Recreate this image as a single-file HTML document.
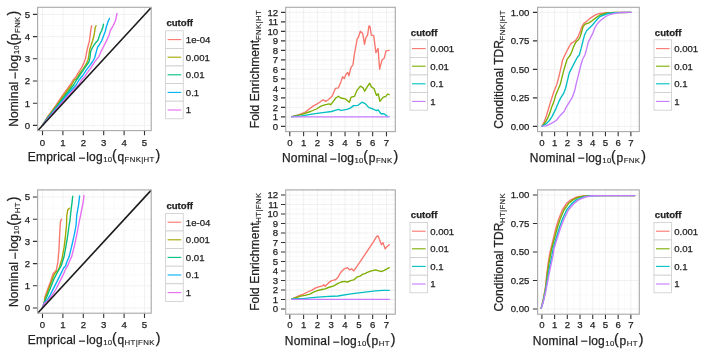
<!DOCTYPE html>
<html><head><meta charset="utf-8"><style>
html,body{margin:0;padding:0;background:#fff;}
body{width:704px;height:354px;overflow:hidden;}
svg{display:block;}
#w{width:704px;height:354px;will-change:transform;}
text{font-family:"Liberation Sans", sans-serif;fill:#222222;stroke:#222222;stroke-width:0.25px;}
.ax{font-size:9.6px;}
.tt{font-size:12px;}
.sb{font-size:8.4px;}
.tg text{font-size:12px;}
.lt{font-size:9.6px;font-weight:bold;}
.ll{font-size:9.6px;}
</style></head><body><div id="w">
<svg width="704" height="354" viewBox="0 0 704 354">
<rect width="704" height="354" fill="#fff"/>
<rect x="37.6" y="7.3" width="113.6" height="123.3" fill="#fff"/>
<path d="M52.7 7.3V130.6M73.1 7.3V130.6M93.5 7.3V130.6M113.9 7.3V130.6M134.3 7.3V130.6M37.6 114.3H151.2M37.6 92.1H151.2M37.6 69.9H151.2M37.6 47.7H151.2M37.6 25.5H151.2" stroke="#f6f6f6" stroke-width="0.6" fill="none"/>
<path d="M42.5 7.3V130.6M62.9 7.3V130.6M83.3 7.3V130.6M103.7 7.3V130.6M124.1 7.3V130.6M144.5 7.3V130.6M37.6 125.4H151.2M37.6 103.2H151.2M37.6 81H151.2M37.6 58.8H151.2M37.6 36.6H151.2M37.6 14.4H151.2" stroke="#e8e8e8" stroke-width="0.6" fill="none"/>
<rect x="285.7" y="7.3" width="109.6" height="124.3" fill="#fff"/>
<path d="M296.7 7.3V131.6M310.51 7.3V131.6M324.32 7.3V131.6M338.13 7.3V131.6M351.94 7.3V131.6M365.75 7.3V131.6M379.56 7.3V131.6M393.38 7.3V131.6M285.7 131.15H395.3M285.7 121.65H395.3M285.7 112.15H395.3M285.7 102.65H395.3M285.7 93.15H395.3M285.7 83.65H395.3M285.7 74.15H395.3M285.7 64.65H395.3M285.7 55.15H395.3M285.7 45.65H395.3M285.7 36.15H395.3M285.7 26.65H395.3M285.7 17.15H395.3M285.7 7.65H395.3" stroke="#f6f6f6" stroke-width="0.6" fill="none"/>
<path d="M289.8 7.3V131.6M303.61 7.3V131.6M317.42 7.3V131.6M331.23 7.3V131.6M345.04 7.3V131.6M358.85 7.3V131.6M372.66 7.3V131.6M386.47 7.3V131.6M285.7 126.4H395.3M285.7 116.9H395.3M285.7 107.4H395.3M285.7 97.9H395.3M285.7 88.4H395.3M285.7 78.9H395.3M285.7 69.4H395.3M285.7 59.9H395.3M285.7 50.4H395.3M285.7 40.9H395.3M285.7 31.4H395.3M285.7 21.9H395.3M285.7 12.4H395.3" stroke="#e8e8e8" stroke-width="0.6" fill="none"/>
<rect x="537.6" y="7.3" width="101.7" height="124.3" fill="#fff"/>
<path d="M548.25 7.3V131.6M560.97 7.3V131.6M573.67 7.3V131.6M586.38 7.3V131.6M599.1 7.3V131.6M611.8 7.3V131.6M624.51 7.3V131.6M637.23 7.3V131.6M537.6 112.15H639.3M537.6 83.65H639.3M537.6 55.15H639.3M537.6 26.65H639.3" stroke="#f6f6f6" stroke-width="0.6" fill="none"/>
<path d="M541.9 7.3V131.6M554.61 7.3V131.6M567.32 7.3V131.6M580.03 7.3V131.6M592.74 7.3V131.6M605.45 7.3V131.6M618.16 7.3V131.6M630.87 7.3V131.6M537.6 126.4H639.3M537.6 97.9H639.3M537.6 69.4H639.3M537.6 40.9H639.3M537.6 12.4H639.3" stroke="#e8e8e8" stroke-width="0.6" fill="none"/>
<rect x="37.6" y="189.9" width="113.6" height="123.3" fill="#fff"/>
<path d="M52.7 189.9V313.2M73.1 189.9V313.2M93.5 189.9V313.2M113.9 189.9V313.2M134.3 189.9V313.2M37.6 296.9H151.2M37.6 274.7H151.2M37.6 252.5H151.2M37.6 230.3H151.2M37.6 208.1H151.2" stroke="#f6f6f6" stroke-width="0.6" fill="none"/>
<path d="M42.5 189.9V313.2M62.9 189.9V313.2M83.3 189.9V313.2M103.7 189.9V313.2M124.1 189.9V313.2M144.5 189.9V313.2M37.6 308H151.2M37.6 285.8H151.2M37.6 263.6H151.2M37.6 241.4H151.2M37.6 219.2H151.2M37.6 197H151.2" stroke="#e8e8e8" stroke-width="0.6" fill="none"/>
<rect x="285.7" y="189.9" width="109.6" height="124.3" fill="#fff"/>
<path d="M296.7 189.9V314.2M310.51 189.9V314.2M324.32 189.9V314.2M338.13 189.9V314.2M351.94 189.9V314.2M365.75 189.9V314.2M379.56 189.9V314.2M393.38 189.9V314.2M285.7 313.75H395.3M285.7 304.25H395.3M285.7 294.75H395.3M285.7 285.25H395.3M285.7 275.75H395.3M285.7 266.25H395.3M285.7 256.75H395.3M285.7 247.25H395.3M285.7 237.75H395.3M285.7 228.25H395.3M285.7 218.75H395.3M285.7 209.25H395.3M285.7 199.75H395.3M285.7 190.25H395.3" stroke="#f6f6f6" stroke-width="0.6" fill="none"/>
<path d="M289.8 189.9V314.2M303.61 189.9V314.2M317.42 189.9V314.2M331.23 189.9V314.2M345.04 189.9V314.2M358.85 189.9V314.2M372.66 189.9V314.2M386.47 189.9V314.2M285.7 309H395.3M285.7 299.5H395.3M285.7 290H395.3M285.7 280.5H395.3M285.7 271H395.3M285.7 261.5H395.3M285.7 252H395.3M285.7 242.5H395.3M285.7 233H395.3M285.7 223.5H395.3M285.7 214H395.3M285.7 204.5H395.3M285.7 195H395.3" stroke="#e8e8e8" stroke-width="0.6" fill="none"/>
<rect x="537.6" y="189.9" width="101.7" height="124.3" fill="#fff"/>
<path d="M548.25 189.9V314.2M560.97 189.9V314.2M573.67 189.9V314.2M586.38 189.9V314.2M599.1 189.9V314.2M611.8 189.9V314.2M624.51 189.9V314.2M637.23 189.9V314.2M537.6 294.75H639.3M537.6 266.25H639.3M537.6 237.75H639.3M537.6 209.25H639.3" stroke="#f6f6f6" stroke-width="0.6" fill="none"/>
<path d="M541.9 189.9V314.2M554.61 189.9V314.2M567.32 189.9V314.2M580.03 189.9V314.2M592.74 189.9V314.2M605.45 189.9V314.2M618.16 189.9V314.2M630.87 189.9V314.2M537.6 309H639.3M537.6 280.5H639.3M537.6 252H639.3M537.6 223.5H639.3M537.6 195H639.3" stroke="#e8e8e8" stroke-width="0.6" fill="none"/>
<path d="M42.4 125.4 L46.7 118 L52.6 110 L56.2 105 L62.9 95 L70.1 85 L73.1 80 L75.3 77.8 L78.7 72.1 L81.6 67.6 L83.8 63.1 L85.5 58.6 L86.3 54 L87.2 49.5 L88.3 45 L89.3 41.6 L89.9 37.1 L90.5 32.6 L91 29.2 L91.6 25.8" stroke="#F8766D" stroke-width="1.35" fill="none" stroke-linejoin="round" stroke-linecap="round"/>
<path d="M42.4 125.4 L47.2 118 L53.3 110 L57.1 105 L64.2 95 L71.6 85 L74.4 80 L76.5 78.9 L79.9 73.2 L83.3 68.7 L86.1 64.2 L88.1 59.7 L88.9 55.2 L89.7 49.5 L91.2 45 L92.7 40.5 L93.9 36 L94.7 31.5 L95.3 27 L96.1 25.8" stroke="#A3A500" stroke-width="1.35" fill="none" stroke-linejoin="round" stroke-linecap="round"/>
<path d="M42.4 125.4 L47.6 118 L54 110 L58 105 L65.7 95 L73.6 85 L76.5 80 L80.4 74.4 L83.8 69.3 L86.6 65.3 L88.9 62 L90 57.4 L90.6 51.8 L92 48.4 L94 45 L95.6 42.8 L97.8 40.5 L99 37.1 L100.1 33.7 L101.8 30.3 L102.9 27 L103.5 24.1" stroke="#00BF7D" stroke-width="1.35" fill="none" stroke-linejoin="round" stroke-linecap="round"/>
<path d="M42.4 125.4 L48.1 118 L54.8 110 L59 105 L67.3 95 L76.1 85 L79 80 L82.7 75.5 L86.1 70.4 L89.5 65.9 L92.3 62 L94.6 58 L95.7 54 L96.8 50 L97.5 47.3 L99.5 44.5 L101.8 40.5 L103.5 36 L105.2 31.5 L106.3 27 L107.4 23.6 L108.6 20.2 L109.5 18.5" stroke="#00B0F6" stroke-width="1.35" fill="none" stroke-linejoin="round" stroke-linecap="round"/>
<path d="M42.4 125.4 L48.6 118 L55.6 110 L60.1 105 L68.9 95 L78.4 85 L81.6 80 L83.7 77.8 L87 73.2 L90.4 68.7 L93.8 63.1 L96.4 59.7 L99 56.3 L101.5 50.6 L103.2 47.3 L104.9 43.9 L107.2 39.4 L109.1 34.9 L110.2 30.9 L111.4 28.6 L113.1 25.8 L114.8 22.4 L115.9 19 L116.5 15.6 L117 13.4" stroke="#E76BF3" stroke-width="1.35" fill="none" stroke-linejoin="round" stroke-linecap="round"/>
<path d="M42.4 308 L44.1 303.1 L44.8 297.5 L46.2 293.2 L48.3 287.6 L50.4 281.9 L51.8 277.7 L53.2 273.5 L54.6 272.1 L56.1 270.6 L56.8 267.8 L57.3 265 L57.9 261.9 L58.9 250.5 L59.5 237.7 L60.2 225 L60.5 221.5 L61.5 219.2" stroke="#F8766D" stroke-width="1.35" fill="none" stroke-linejoin="round" stroke-linecap="round"/>
<path d="M42.4 308 L44.1 303.1 L45.5 297.5 L47.6 291.8 L49.7 286.2 L51.8 280.5 L53.9 274.9 L56.1 272.1 L58.3 270 L59.5 267 L62.1 258.1 L64 247.9 L65.3 237.7 L66.5 225 L66.8 215.7 L67.8 209.8 L69.4 208.2" stroke="#A3A500" stroke-width="1.35" fill="none" stroke-linejoin="round" stroke-linecap="round"/>
<path d="M42.4 308 L44.1 303.1 L46.2 298.2 L48.3 293.2 L51.1 286.2 L53.9 279.1 L56.8 273.5 L59.6 268.5 L61.5 265 L64 256.8 L65.9 246.6 L67.8 235.2 L69.1 225 L69.8 221.6 L71.1 209.8 L72.1 201.9 L72.7 196.3" stroke="#00BF7D" stroke-width="1.35" fill="none" stroke-linejoin="round" stroke-linecap="round"/>
<path d="M42.4 308 L44.1 303.3 L47.6 299.6 L50.4 294.6 L53.9 287.6 L56.8 281.9 L60.3 274.9 L63.8 267.8 L65.5 266 L66.8 262 L69.1 256.8 L71.6 246.6 L74.2 235.2 L76.1 225 L76.7 215.7 L78.7 203.8 L79.6 195.9" stroke="#00B0F6" stroke-width="1.35" fill="none" stroke-linejoin="round" stroke-linecap="round"/>
<path d="M42.4 308 L44.1 303.8 L48.3 300.3 L52.5 294.6 L56.1 289 L59.6 281.9 L63.1 274.9 L65.9 268.5 L67.8 265.7 L69.1 262 L71.6 256.8 L74.2 246.6 L76.7 235.2 L78.6 225 L81 213 L83.2 201.9 L84 195.5" stroke="#E76BF3" stroke-width="1.35" fill="none" stroke-linejoin="round" stroke-linecap="round"/>
<path d="M38.1 130.19L151.02 7.8" stroke="#1a1a1a" stroke-width="1.6"/>
<path d="M38.1 312.79L151.02 190.4" stroke="#1a1a1a" stroke-width="1.6"/>
<path d="M291.8 116.6 L298.6 114.9 L305.3 112 L310.4 108.1 L313.8 105.6 L317.2 103.9 L319.7 102.2 L323.1 99.7 L325.7 101.4 L328.2 99.7 L332.1 96.3 L335.5 88.3 L338.4 87.8 L340.9 81.9 L342.6 76.8 L344.3 78.5 L346 74.2 L347.7 72.5 L348.9 75.9 L350.3 70 L351.1 67.3 L353 64.6 L354.2 55.4 L355.7 47.1 L357.2 38.9 L358.5 37 L360.3 31.2 L362.7 33.4 L364.5 44.4 L365.8 38 L367.6 35.2 L368.9 26 L370 26.4 L371.3 35.2 L373.7 35.6 L375.9 52.6 L378.1 48.4 L379.6 69.2 L382 60 L384.2 58.2 L386 50.8 L389.1 50.3" stroke="#F8766D" stroke-width="1.35" fill="none" stroke-linejoin="round" stroke-linecap="round"/>
<path d="M291.8 116.6 L302 114.4 L310.4 111.5 L316.4 109 L321.4 105.9 L325.7 104.7 L329.1 103.9 L330.8 104.7 L333.3 101.4 L335.8 98 L338.4 96.3 L340.9 98 L345.2 98.8 L346.9 100.2 L349.4 102.2 L351.1 97.1 L354.5 96.3 L357 90.3 L360.4 86.1 L363 87.8 L364.7 91.2 L367.2 86.9 L369.7 83.2 L371.4 86.9 L374 88.6 L376.5 95.4 L378.2 93.7 L379.9 101.4 L383.3 97.1 L385.8 96.3 L387.5 94.1 L389.2 94.6" stroke="#7CAE00" stroke-width="1.35" fill="none" stroke-linejoin="round" stroke-linecap="round"/>
<path d="M291.8 116.6 L302 115.8 L310.4 114.4 L318.9 113.2 L324.8 112.4 L331.6 111.5 L335 110.3 L338.4 109.3 L340.9 110.3 L346.9 109.3 L350.3 108.1 L353.6 105.6 L357.9 105.3 L362.1 102.2 L365.5 103.9 L368.9 107.6 L373.1 109 L376.5 110.7 L378.2 109.8 L380.8 113.7 L383.3 113.7 L385 114.4 L387.5 116.6" stroke="#00BFC4" stroke-width="1.35" fill="none" stroke-linejoin="round" stroke-linecap="round"/>
<path d="M291.8 116.9 L389.2 116.9" stroke="#C77CFF" stroke-width="1.35" fill="none" stroke-linejoin="round" stroke-linecap="round"/>
<path d="M291.9 299 L298 296.1 L303.3 294.1 L308.6 291.5 L311.9 290.1 L315.2 288.2 L318.5 286.8 L321.8 286.2 L323.8 284.8 L325.1 286.2 L328.5 282.9 L331.1 280.9 L333.8 280.2 L335.8 279.5 L338 277.2 L341.1 271.9 L344.3 268.8 L347.4 267.7 L349.5 269.8 L351.6 268.8 L353.7 270.9 L356.8 266.7 L361 260.4 L365.2 254.2 L369.4 247.9 L373.6 241.6 L376.7 236.4 L378.2 236 L379.8 240.6 L381.5 244.7 L383 242.6 L385.1 248.9 L387.2 246.4 L389.3 244.7" stroke="#F8766D" stroke-width="1.35" fill="none" stroke-linejoin="round" stroke-linecap="round"/>
<path d="M291.9 299 L300.6 296.1 L305 295.3 L309.9 294.1 L313 292.3 L316.5 290.8 L321.8 289.5 L325 288.8 L328.5 287.5 L333.8 285.8 L338 283.4 L341.1 282 L344.3 281.3 L347.4 282 L350.6 280.7 L353.7 279.9 L356.8 277.2 L360 276.1 L363.1 274 L365 273.6 L367.3 272.4 L371.5 270.9 L375.7 269.8 L378.8 270.9 L381.9 271.5 L385.1 269.8 L389.3 267.7" stroke="#7CAE00" stroke-width="1.35" fill="none" stroke-linejoin="round" stroke-linecap="round"/>
<path d="M291.9 299 L304.8 298.4 L315 297.4 L324.6 296.6 L338 296 L350.6 293.9 L363.1 292.4 L375.7 290.8 L383 290.3 L389.3 290.3" stroke="#00BFC4" stroke-width="1.35" fill="none" stroke-linejoin="round" stroke-linecap="round"/>
<path d="M291.9 299.4 L389.3 299.4" stroke="#C77CFF" stroke-width="1.35" fill="none" stroke-linejoin="round" stroke-linecap="round"/>
<path d="M542.1 126.2 L544.3 121.6 L546 117.1 L547.7 111.5 L549.4 105.8 L551.1 100.2 L552.6 95.5 L554.5 90 L556.9 84.2 L558.8 77 L560.3 70.6 L562.6 60 L564.5 56 L565.7 53.4 L567.4 50 L569.1 46.6 L571.4 43.2 L573.6 42.1 L575.9 39.9 L578.2 36.5 L580.4 30.8 L582.1 26.3 L583.8 23.5 L586.6 21.2 L590 18.4 L593.4 16.1 L596 14.6 L599.9 13.3 L606.8 12.6 L631 12.4" stroke="#F8766D" stroke-width="1.35" fill="none" stroke-linejoin="round" stroke-linecap="round"/>
<path d="M542.1 126.2 L544.9 122.8 L547.7 118.2 L550 112.6 L551.7 106.9 L554 101.3 L555.6 95.6 L557.9 90 L560.3 84.2 L563.7 70.6 L567.1 59.3 L570.3 55 L572 51.2 L573.6 46.6 L575.9 42.1 L578.2 39.9 L579.9 37.6 L581.6 32 L583.2 26.3 L585.5 24 L588.9 22.9 L592.3 20.6 L595 18.4 L599.9 15 L606.8 13 L614.7 12.5 L631 12.4" stroke="#7CAE00" stroke-width="1.35" fill="none" stroke-linejoin="round" stroke-linecap="round"/>
<path d="M542.1 126.2 L546 123.9 L549.4 120.5 L551.7 117.1 L554 112.6 L556.2 108.1 L558.5 102.4 L560.7 97.9 L563.6 93.4 L565.5 88.5 L569.3 72.9 L573.9 63.9 L577.2 57.5 L579.3 55 L581 48.9 L582.7 42.1 L584.4 35.3 L586.6 30.8 L588.9 28.6 L591.2 26.3 L593.4 24 L595 21.8 L599.9 16.5 L607.8 13.5 L614.7 12.7 L631 12.4" stroke="#00BFC4" stroke-width="1.35" fill="none" stroke-linejoin="round" stroke-linecap="round"/>
<path d="M542.1 126.2 L546 125.9 L550.6 123.9 L556.2 120.5 L560.7 114.9 L564.1 111.5 L566.4 106.9 L569.8 101.3 L572 97.9 L573.7 93.4 L574.9 90 L576.1 84.2 L578.4 75.1 L580.6 66 L582.7 59 L584.9 55 L586.6 48.9 L588.3 42.1 L590.6 37.6 L592.9 33.1 L595 27.4 L597.5 23.5 L600.5 20.5 L604.8 17 L609.8 14.5 L615.7 13.1 L621.6 12.5 L631 12.4" stroke="#C77CFF" stroke-width="1.35" fill="none" stroke-linejoin="round" stroke-linecap="round"/>
<path d="M541.2 308.1 L543.28 299.51 L545.5 286.91 L546.55 276.31 L548.09 263.72 L549.86 252.91 L551.07 248 L553.71 237.2 L556.25 227 L558.89 218.5 L562.34 210 L566.58 203.34 L570.83 199.9 L576.01 197.28 L582.81 195.99 L589.89 195.6 L634.7 195.6" stroke="#F8766D" stroke-width="1.4" fill="none" stroke-linejoin="round" stroke-linecap="round"/>
<path d="M541.2 308.1 L543.18 300.56 L545.5 288.49 L546.83 277.89 L548.51 265.82 L550.66 253.96 L551.92 248 L554.76 237.2 L557.53 227 L560.37 218.5 L564.01 210 L568.48 203.54 L572.95 199.9 L578.56 197.21 L585.36 195.94 L593.87 195.6 L634.7 195.6" stroke="#7CAE00" stroke-width="1.4" fill="none" stroke-linejoin="round" stroke-linecap="round"/>
<path d="M541.2 308.1 L543.02 302.24 L545.5 291.01 L547.27 280.41 L549.19 269.18 L551.94 255.64 L553.28 248 L556.44 237.2 L559.57 227 L562.73 218.5 L566.69 210 L571.52 203.86 L576.35 199.9 L582.64 197.09 L589.44 195.86 L600.23 195.6 L634.7 195.6" stroke="#00BFC4" stroke-width="1.4" fill="none" stroke-linejoin="round" stroke-linecap="round"/>
<path d="M541.2 308.1 L542.92 303.29 L545.5 292.58 L547.55 281.99 L549.62 271.28 L552.74 256.69 L554.13 248 L557.49 237.2 L560.85 227 L564.21 218.5 L568.37 210 L573.42 204.06 L578.47 199.9 L585.19 197.01 L591.99 195.81 L604.21 195.6 L634.7 195.6" stroke="#C77CFF" stroke-width="1.4" fill="none" stroke-linejoin="round" stroke-linecap="round"/>
<rect x="37.6" y="7.3" width="113.6" height="123.3" fill="none" stroke="#ababab" stroke-width="1.15"/>
<path d="M42.5 131.1v4.2M62.9 131.1v4.2M83.3 131.1v4.2M103.7 131.1v4.2M124.1 131.1v4.2M144.5 131.1v4.2M37.1 125.4h-4.2M37.1 103.2h-4.2M37.1 81h-4.2M37.1 58.8h-4.2M37.1 36.6h-4.2M37.1 14.4h-4.2" stroke="#333333" stroke-width="1.1" fill="none"/>
<text x="42.5" y="145.8" text-anchor="middle" class="ax">0</text>
<text x="62.9" y="145.8" text-anchor="middle" class="ax">1</text>
<text x="83.3" y="145.8" text-anchor="middle" class="ax">2</text>
<text x="103.7" y="145.8" text-anchor="middle" class="ax">3</text>
<text x="124.1" y="145.8" text-anchor="middle" class="ax">4</text>
<text x="144.5" y="145.8" text-anchor="middle" class="ax">5</text>
<text x="30" y="128.8" text-anchor="end" class="ax">0</text>
<text x="30" y="106.6" text-anchor="end" class="ax">1</text>
<text x="30" y="84.4" text-anchor="end" class="ax">2</text>
<text x="30" y="62.2" text-anchor="end" class="ax">3</text>
<text x="30" y="40" text-anchor="end" class="ax">4</text>
<text x="30" y="17.8" text-anchor="end" class="ax">5</text>
<rect x="285.7" y="7.3" width="109.6" height="124.3" fill="none" stroke="#ababab" stroke-width="1.15"/>
<path d="M289.8 132.1v4.2M303.61 132.1v4.2M317.42 132.1v4.2M331.23 132.1v4.2M345.04 132.1v4.2M358.85 132.1v4.2M372.66 132.1v4.2M386.47 132.1v4.2M285.2 126.4h-4.2M285.2 116.9h-4.2M285.2 107.4h-4.2M285.2 97.9h-4.2M285.2 88.4h-4.2M285.2 78.9h-4.2M285.2 69.4h-4.2M285.2 59.9h-4.2M285.2 50.4h-4.2M285.2 40.9h-4.2M285.2 31.4h-4.2M285.2 21.9h-4.2M285.2 12.4h-4.2" stroke="#333333" stroke-width="1.1" fill="none"/>
<text x="289.8" y="145.8" text-anchor="middle" class="ax">0</text>
<text x="303.61" y="145.8" text-anchor="middle" class="ax">1</text>
<text x="317.42" y="145.8" text-anchor="middle" class="ax">2</text>
<text x="331.23" y="145.8" text-anchor="middle" class="ax">3</text>
<text x="345.04" y="145.8" text-anchor="middle" class="ax">4</text>
<text x="358.85" y="145.8" text-anchor="middle" class="ax">5</text>
<text x="372.66" y="145.8" text-anchor="middle" class="ax">6</text>
<text x="386.47" y="145.8" text-anchor="middle" class="ax">7</text>
<text x="278.2" y="129.8" text-anchor="end" class="ax">0</text>
<text x="278.2" y="120.3" text-anchor="end" class="ax">1</text>
<text x="278.2" y="110.8" text-anchor="end" class="ax">2</text>
<text x="278.2" y="101.3" text-anchor="end" class="ax">3</text>
<text x="278.2" y="91.8" text-anchor="end" class="ax">4</text>
<text x="278.2" y="82.3" text-anchor="end" class="ax">5</text>
<text x="278.2" y="72.8" text-anchor="end" class="ax">6</text>
<text x="278.2" y="63.3" text-anchor="end" class="ax">7</text>
<text x="278.2" y="53.8" text-anchor="end" class="ax">8</text>
<text x="278.2" y="44.3" text-anchor="end" class="ax">9</text>
<text x="278.2" y="34.8" text-anchor="end" class="ax">10</text>
<text x="278.2" y="25.3" text-anchor="end" class="ax">11</text>
<text x="278.2" y="15.8" text-anchor="end" class="ax">12</text>
<rect x="537.6" y="7.3" width="101.7" height="124.3" fill="none" stroke="#ababab" stroke-width="1.15"/>
<path d="M541.9 132.1v4.2M554.61 132.1v4.2M567.32 132.1v4.2M580.03 132.1v4.2M592.74 132.1v4.2M605.45 132.1v4.2M618.16 132.1v4.2M630.87 132.1v4.2M537.1 126.4h-4.2M537.1 97.9h-4.2M537.1 69.4h-4.2M537.1 40.9h-4.2M537.1 12.4h-4.2" stroke="#333333" stroke-width="1.1" fill="none"/>
<text x="541.9" y="145.8" text-anchor="middle" class="ax">0</text>
<text x="554.61" y="145.8" text-anchor="middle" class="ax">1</text>
<text x="567.32" y="145.8" text-anchor="middle" class="ax">2</text>
<text x="580.03" y="145.8" text-anchor="middle" class="ax">3</text>
<text x="592.74" y="145.8" text-anchor="middle" class="ax">4</text>
<text x="605.45" y="145.8" text-anchor="middle" class="ax">5</text>
<text x="618.16" y="145.8" text-anchor="middle" class="ax">6</text>
<text x="630.87" y="145.8" text-anchor="middle" class="ax">7</text>
<text x="529.4" y="129.8" text-anchor="end" class="ax">0.00</text>
<text x="529.4" y="101.3" text-anchor="end" class="ax">0.25</text>
<text x="529.4" y="72.8" text-anchor="end" class="ax">0.50</text>
<text x="529.4" y="44.3" text-anchor="end" class="ax">0.75</text>
<text x="529.4" y="15.8" text-anchor="end" class="ax">1.00</text>
<rect x="37.6" y="189.9" width="113.6" height="123.3" fill="none" stroke="#ababab" stroke-width="1.15"/>
<path d="M42.5 313.7v4.2M62.9 313.7v4.2M83.3 313.7v4.2M103.7 313.7v4.2M124.1 313.7v4.2M144.5 313.7v4.2M37.1 308h-4.2M37.1 285.8h-4.2M37.1 263.6h-4.2M37.1 241.4h-4.2M37.1 219.2h-4.2M37.1 197h-4.2" stroke="#333333" stroke-width="1.1" fill="none"/>
<text x="42.5" y="328.4" text-anchor="middle" class="ax">0</text>
<text x="62.9" y="328.4" text-anchor="middle" class="ax">1</text>
<text x="83.3" y="328.4" text-anchor="middle" class="ax">2</text>
<text x="103.7" y="328.4" text-anchor="middle" class="ax">3</text>
<text x="124.1" y="328.4" text-anchor="middle" class="ax">4</text>
<text x="144.5" y="328.4" text-anchor="middle" class="ax">5</text>
<text x="30" y="311.4" text-anchor="end" class="ax">0</text>
<text x="30" y="289.2" text-anchor="end" class="ax">1</text>
<text x="30" y="267" text-anchor="end" class="ax">2</text>
<text x="30" y="244.8" text-anchor="end" class="ax">3</text>
<text x="30" y="222.6" text-anchor="end" class="ax">4</text>
<text x="30" y="200.4" text-anchor="end" class="ax">5</text>
<rect x="285.7" y="189.9" width="109.6" height="124.3" fill="none" stroke="#ababab" stroke-width="1.15"/>
<path d="M289.8 314.7v4.2M303.61 314.7v4.2M317.42 314.7v4.2M331.23 314.7v4.2M345.04 314.7v4.2M358.85 314.7v4.2M372.66 314.7v4.2M386.47 314.7v4.2M285.2 309h-4.2M285.2 299.5h-4.2M285.2 290h-4.2M285.2 280.5h-4.2M285.2 271h-4.2M285.2 261.5h-4.2M285.2 252h-4.2M285.2 242.5h-4.2M285.2 233h-4.2M285.2 223.5h-4.2M285.2 214h-4.2M285.2 204.5h-4.2M285.2 195h-4.2" stroke="#333333" stroke-width="1.1" fill="none"/>
<text x="289.8" y="328.4" text-anchor="middle" class="ax">0</text>
<text x="303.61" y="328.4" text-anchor="middle" class="ax">1</text>
<text x="317.42" y="328.4" text-anchor="middle" class="ax">2</text>
<text x="331.23" y="328.4" text-anchor="middle" class="ax">3</text>
<text x="345.04" y="328.4" text-anchor="middle" class="ax">4</text>
<text x="358.85" y="328.4" text-anchor="middle" class="ax">5</text>
<text x="372.66" y="328.4" text-anchor="middle" class="ax">6</text>
<text x="386.47" y="328.4" text-anchor="middle" class="ax">7</text>
<text x="278.2" y="312.4" text-anchor="end" class="ax">0</text>
<text x="278.2" y="302.9" text-anchor="end" class="ax">1</text>
<text x="278.2" y="293.4" text-anchor="end" class="ax">2</text>
<text x="278.2" y="283.9" text-anchor="end" class="ax">3</text>
<text x="278.2" y="274.4" text-anchor="end" class="ax">4</text>
<text x="278.2" y="264.9" text-anchor="end" class="ax">5</text>
<text x="278.2" y="255.4" text-anchor="end" class="ax">6</text>
<text x="278.2" y="245.9" text-anchor="end" class="ax">7</text>
<text x="278.2" y="236.4" text-anchor="end" class="ax">8</text>
<text x="278.2" y="226.9" text-anchor="end" class="ax">9</text>
<text x="278.2" y="217.4" text-anchor="end" class="ax">10</text>
<text x="278.2" y="207.9" text-anchor="end" class="ax">11</text>
<text x="278.2" y="198.4" text-anchor="end" class="ax">12</text>
<rect x="537.6" y="189.9" width="101.7" height="124.3" fill="none" stroke="#ababab" stroke-width="1.15"/>
<path d="M541.9 314.7v4.2M554.61 314.7v4.2M567.32 314.7v4.2M580.03 314.7v4.2M592.74 314.7v4.2M605.45 314.7v4.2M618.16 314.7v4.2M630.87 314.7v4.2M537.1 309h-4.2M537.1 280.5h-4.2M537.1 252h-4.2M537.1 223.5h-4.2M537.1 195h-4.2" stroke="#333333" stroke-width="1.1" fill="none"/>
<text x="541.9" y="328.4" text-anchor="middle" class="ax">0</text>
<text x="554.61" y="328.4" text-anchor="middle" class="ax">1</text>
<text x="567.32" y="328.4" text-anchor="middle" class="ax">2</text>
<text x="580.03" y="328.4" text-anchor="middle" class="ax">3</text>
<text x="592.74" y="328.4" text-anchor="middle" class="ax">4</text>
<text x="605.45" y="328.4" text-anchor="middle" class="ax">5</text>
<text x="618.16" y="328.4" text-anchor="middle" class="ax">6</text>
<text x="630.87" y="328.4" text-anchor="middle" class="ax">7</text>
<text x="529.4" y="312.4" text-anchor="end" class="ax">0.00</text>
<text x="529.4" y="283.9" text-anchor="end" class="ax">0.25</text>
<text x="529.4" y="255.4" text-anchor="end" class="ax">0.50</text>
<text x="529.4" y="226.9" text-anchor="end" class="ax">0.75</text>
<text x="529.4" y="198.4" text-anchor="end" class="ax">1.00</text>
<g transform="translate(28.8 160.2)" class="tg"><text x="-0.98" y="0.5" style="font-size:12px;letter-spacing:0.17px">Emprical</text><text x="49.42" y="1.3" style="font-size:12px">−</text><text x="57.48" y="0.5" style="font-size:12px;letter-spacing:0.17px">log</text><text x="74.4" y="1.6" style="font-size:7.8px;letter-spacing:0.2px;stroke-width:0.15px">10</text><text x="83.12" y="-0.1" style="font-size:14.2px">(</text><text x="88.77" y="0.5" style="font-size:12px">q</text><text x="95.74" y="1.5" style="font-size:7.8px;letter-spacing:0.36px;stroke-width:0.15px">FNK|HT</text><text x="126.77" y="-0.1" style="font-size:14.2px">)</text></g>
<g transform="translate(28.8 343.2)" class="tg"><text x="-0.98" y="0.5" style="font-size:12px;letter-spacing:0.17px">Emprical</text><text x="49.42" y="1.3" style="font-size:12px">−</text><text x="57.48" y="0.5" style="font-size:12px;letter-spacing:0.17px">log</text><text x="74.4" y="1.6" style="font-size:7.8px;letter-spacing:0.2px;stroke-width:0.15px">10</text><text x="83.12" y="-0.1" style="font-size:14.2px">(</text><text x="88.77" y="0.5" style="font-size:12px">q</text><text x="95.74" y="1.5" style="font-size:7.8px;letter-spacing:0.36px;stroke-width:0.15px">HT|FNK</text><text x="126.86" y="-0.1" style="font-size:14.2px">)</text></g>
<g transform="translate(283 161.2)" class="tg"><text x="-0.98" y="0.5" style="font-size:12px;letter-spacing:0.17px">Nominal</text><text x="46.59" y="1.3" style="font-size:12px">−</text><text x="54.65" y="0.5" style="font-size:12px;letter-spacing:0.17px">log</text><text x="71.57" y="1.6" style="font-size:7.8px;letter-spacing:0.2px;stroke-width:0.15px">10</text><text x="80.29" y="-0.1" style="font-size:14.2px">(</text><text x="85.68" y="0.5" style="font-size:12px">p</text><text x="92.91" y="1.5" style="font-size:7.8px;letter-spacing:0.36px;stroke-width:0.15px">FNK</text><text x="110.53" y="-0.1" style="font-size:14.2px">)</text></g>
<g transform="translate(285.8 344.2)" class="tg"><text x="-0.98" y="0.5" style="font-size:12px;letter-spacing:0.17px">Nominal</text><text x="46.59" y="1.3" style="font-size:12px">−</text><text x="54.65" y="0.5" style="font-size:12px;letter-spacing:0.17px">log</text><text x="71.57" y="1.6" style="font-size:7.8px;letter-spacing:0.2px;stroke-width:0.15px">10</text><text x="80.29" y="-0.1" style="font-size:14.2px">(</text><text x="85.68" y="0.5" style="font-size:12px">p</text><text x="92.91" y="1.5" style="font-size:7.8px;letter-spacing:0.36px;stroke-width:0.15px">HT</text><text x="104.87" y="-0.1" style="font-size:14.2px">)</text></g>
<g transform="translate(530.8 161)" class="tg"><text x="-0.98" y="0.5" style="font-size:12px;letter-spacing:0.17px">Nominal</text><text x="46.59" y="1.3" style="font-size:12px">−</text><text x="54.65" y="0.5" style="font-size:12px;letter-spacing:0.17px">log</text><text x="71.57" y="1.6" style="font-size:7.8px;letter-spacing:0.2px;stroke-width:0.15px">10</text><text x="80.29" y="-0.1" style="font-size:14.2px">(</text><text x="85.68" y="0.5" style="font-size:12px">p</text><text x="92.91" y="1.5" style="font-size:7.8px;letter-spacing:0.36px;stroke-width:0.15px">FNK</text><text x="110.53" y="-0.1" style="font-size:14.2px">)</text></g>
<g transform="translate(533.8 344)" class="tg"><text x="-0.98" y="0.5" style="font-size:12px;letter-spacing:0.17px">Nominal</text><text x="46.59" y="1.3" style="font-size:12px">−</text><text x="54.65" y="0.5" style="font-size:12px;letter-spacing:0.17px">log</text><text x="71.57" y="1.6" style="font-size:7.8px;letter-spacing:0.2px;stroke-width:0.15px">10</text><text x="80.29" y="-0.1" style="font-size:14.2px">(</text><text x="85.68" y="0.5" style="font-size:12px">p</text><text x="92.91" y="1.5" style="font-size:7.8px;letter-spacing:0.36px;stroke-width:0.15px">HT</text><text x="104.87" y="-0.1" style="font-size:14.2px">)</text></g>
<g transform="translate(17.6 125.9) rotate(-90)" class="tg"><text x="-0.98" y="0.5" style="font-size:12px;letter-spacing:0.17px">Nominal</text><text x="46.59" y="1.3" style="font-size:12px">−</text><text x="54.65" y="0.5" style="font-size:12px;letter-spacing:0.17px">log</text><text x="71.57" y="1.6" style="font-size:7.8px;letter-spacing:0.2px;stroke-width:0.15px">10</text><text x="80.29" y="-0.1" style="font-size:14.2px">(</text><text x="85.68" y="0.5" style="font-size:12px">p</text><text x="92.91" y="2.3" style="font-size:7.8px;letter-spacing:0.36px;stroke-width:0.15px">FNK</text><text x="110.53" y="-0.1" style="font-size:14.2px">)</text></g>
<g transform="translate(17.6 306.1) rotate(-90)" class="tg"><text x="-0.98" y="0.5" style="font-size:12px;letter-spacing:0.17px">Nominal</text><text x="46.59" y="1.3" style="font-size:12px">−</text><text x="54.65" y="0.5" style="font-size:12px;letter-spacing:0.17px">log</text><text x="71.57" y="1.6" style="font-size:7.8px;letter-spacing:0.2px;stroke-width:0.15px">10</text><text x="80.29" y="-0.1" style="font-size:14.2px">(</text><text x="85.68" y="0.5" style="font-size:12px">p</text><text x="92.91" y="2.3" style="font-size:7.8px;letter-spacing:0.36px;stroke-width:0.15px">HT</text><text x="104.87" y="-0.1" style="font-size:14.2px">)</text></g>
<g transform="translate(258.4 127.3) rotate(-90)" class="tg"><text x="-0.98" y="0.5" style="font-size:12px;letter-spacing:0.07px">Fold Enrichment</text><text x="87.24" y="2.3" style="font-size:7.8px;letter-spacing:0.36px;stroke-width:0.15px">FNK|HT</text></g>
<g transform="translate(258.4 309.9) rotate(-90)" class="tg"><text x="-0.98" y="0.5" style="font-size:12px;letter-spacing:0.07px">Fold Enrichment</text><text x="87.24" y="2.3" style="font-size:7.8px;letter-spacing:0.36px;stroke-width:0.15px">HT|FNK</text></g>
<g transform="translate(502.7 128.2) rotate(-90)" class="tg"><text x="-0.61" y="0.5" style="font-size:12px;letter-spacing:0.07px">Conditional TDR</text><text x="87.81" y="2.3" style="font-size:7.8px;letter-spacing:0.36px;stroke-width:0.15px">FNK|HT</text></g>
<g transform="translate(502.7 310.8) rotate(-90)" class="tg"><text x="-0.61" y="0.5" style="font-size:12px;letter-spacing:0.07px">Conditional TDR</text><text x="87.81" y="2.3" style="font-size:7.8px;letter-spacing:0.36px;stroke-width:0.15px">HT|FNK</text></g>
<text x="166.4" y="26.3" class="lt">cutoff</text>
<rect x="165.6" y="30.8" width="17.6" height="17.6" fill="#fff" stroke="#cccccc" stroke-width="0.8"/>
<path d="M167.6 39.6H181.2" stroke="#F8766D" stroke-width="1.1"/>
<text x="185.8" y="43" class="ll">1e-04</text>
<rect x="165.6" y="48.4" width="17.6" height="17.6" fill="#fff" stroke="#cccccc" stroke-width="0.8"/>
<path d="M167.6 57.2H181.2" stroke="#A3A500" stroke-width="1.1"/>
<text x="185.8" y="60.6" class="ll">0.001</text>
<rect x="165.6" y="66" width="17.6" height="17.6" fill="#fff" stroke="#cccccc" stroke-width="0.8"/>
<path d="M167.6 74.8H181.2" stroke="#00BF7D" stroke-width="1.1"/>
<text x="185.8" y="78.2" class="ll">0.01</text>
<rect x="165.6" y="83.6" width="17.6" height="17.6" fill="#fff" stroke="#cccccc" stroke-width="0.8"/>
<path d="M167.6 92.4H181.2" stroke="#00B0F6" stroke-width="1.1"/>
<text x="185.8" y="95.8" class="ll">0.1</text>
<rect x="165.6" y="101.2" width="17.6" height="17.6" fill="#fff" stroke="#cccccc" stroke-width="0.8"/>
<path d="M167.6 110H181.2" stroke="#E76BF3" stroke-width="1.1"/>
<text x="185.8" y="113.4" class="ll">1</text>
<text x="166.4" y="208.9" class="lt">cutoff</text>
<rect x="165.6" y="213.4" width="17.6" height="17.6" fill="#fff" stroke="#cccccc" stroke-width="0.8"/>
<path d="M167.6 222.2H181.2" stroke="#F8766D" stroke-width="1.1"/>
<text x="185.8" y="225.6" class="ll">1e-04</text>
<rect x="165.6" y="231" width="17.6" height="17.6" fill="#fff" stroke="#cccccc" stroke-width="0.8"/>
<path d="M167.6 239.8H181.2" stroke="#A3A500" stroke-width="1.1"/>
<text x="185.8" y="243.2" class="ll">0.001</text>
<rect x="165.6" y="248.6" width="17.6" height="17.6" fill="#fff" stroke="#cccccc" stroke-width="0.8"/>
<path d="M167.6 257.4H181.2" stroke="#00BF7D" stroke-width="1.1"/>
<text x="185.8" y="260.8" class="ll">0.01</text>
<rect x="165.6" y="266.2" width="17.6" height="17.6" fill="#fff" stroke="#cccccc" stroke-width="0.8"/>
<path d="M167.6 275H181.2" stroke="#00B0F6" stroke-width="1.1"/>
<text x="185.8" y="278.4" class="ll">0.1</text>
<rect x="165.6" y="283.8" width="17.6" height="17.6" fill="#fff" stroke="#cccccc" stroke-width="0.8"/>
<path d="M167.6 292.6H181.2" stroke="#E76BF3" stroke-width="1.1"/>
<text x="185.8" y="296" class="ll">1</text>
<text x="410.8" y="35.5" class="lt">cutoff</text>
<rect x="410" y="39.8" width="17.6" height="17.6" fill="#fff" stroke="#cccccc" stroke-width="0.8"/>
<path d="M412 48.6H425.6" stroke="#F8766D" stroke-width="1.1"/>
<text x="430.2" y="52" class="ll">0.001</text>
<rect x="410" y="57.4" width="17.6" height="17.6" fill="#fff" stroke="#cccccc" stroke-width="0.8"/>
<path d="M412 66.2H425.6" stroke="#7CAE00" stroke-width="1.1"/>
<text x="430.2" y="69.6" class="ll">0.01</text>
<rect x="410" y="75" width="17.6" height="17.6" fill="#fff" stroke="#cccccc" stroke-width="0.8"/>
<path d="M412 83.8H425.6" stroke="#00BFC4" stroke-width="1.1"/>
<text x="430.2" y="87.2" class="ll">0.1</text>
<rect x="410" y="92.6" width="17.6" height="17.6" fill="#fff" stroke="#cccccc" stroke-width="0.8"/>
<path d="M412 101.4H425.6" stroke="#C77CFF" stroke-width="1.1"/>
<text x="430.2" y="104.8" class="ll">1</text>
<text x="410.8" y="218.1" class="lt">cutoff</text>
<rect x="410" y="222.4" width="17.6" height="17.6" fill="#fff" stroke="#cccccc" stroke-width="0.8"/>
<path d="M412 231.2H425.6" stroke="#F8766D" stroke-width="1.1"/>
<text x="430.2" y="234.6" class="ll">0.001</text>
<rect x="410" y="240" width="17.6" height="17.6" fill="#fff" stroke="#cccccc" stroke-width="0.8"/>
<path d="M412 248.8H425.6" stroke="#7CAE00" stroke-width="1.1"/>
<text x="430.2" y="252.2" class="ll">0.01</text>
<rect x="410" y="257.6" width="17.6" height="17.6" fill="#fff" stroke="#cccccc" stroke-width="0.8"/>
<path d="M412 266.4H425.6" stroke="#00BFC4" stroke-width="1.1"/>
<text x="430.2" y="269.8" class="ll">0.1</text>
<rect x="410" y="275.2" width="17.6" height="17.6" fill="#fff" stroke="#cccccc" stroke-width="0.8"/>
<path d="M412 284H425.6" stroke="#C77CFF" stroke-width="1.1"/>
<text x="430.2" y="287.4" class="ll">1</text>
<text x="654.8" y="35.5" class="lt">cutoff</text>
<rect x="654" y="39.8" width="17.6" height="17.6" fill="#fff" stroke="#cccccc" stroke-width="0.8"/>
<path d="M656 48.6H669.6" stroke="#F8766D" stroke-width="1.1"/>
<text x="674.2" y="52" class="ll">0.001</text>
<rect x="654" y="57.4" width="17.6" height="17.6" fill="#fff" stroke="#cccccc" stroke-width="0.8"/>
<path d="M656 66.2H669.6" stroke="#7CAE00" stroke-width="1.1"/>
<text x="674.2" y="69.6" class="ll">0.01</text>
<rect x="654" y="75" width="17.6" height="17.6" fill="#fff" stroke="#cccccc" stroke-width="0.8"/>
<path d="M656 83.8H669.6" stroke="#00BFC4" stroke-width="1.1"/>
<text x="674.2" y="87.2" class="ll">0.1</text>
<rect x="654" y="92.6" width="17.6" height="17.6" fill="#fff" stroke="#cccccc" stroke-width="0.8"/>
<path d="M656 101.4H669.6" stroke="#C77CFF" stroke-width="1.1"/>
<text x="674.2" y="104.8" class="ll">1</text>
<text x="654.8" y="218.1" class="lt">cutoff</text>
<rect x="654" y="222.4" width="17.6" height="17.6" fill="#fff" stroke="#cccccc" stroke-width="0.8"/>
<path d="M656 231.2H669.6" stroke="#F8766D" stroke-width="1.1"/>
<text x="674.2" y="234.6" class="ll">0.001</text>
<rect x="654" y="240" width="17.6" height="17.6" fill="#fff" stroke="#cccccc" stroke-width="0.8"/>
<path d="M656 248.8H669.6" stroke="#7CAE00" stroke-width="1.1"/>
<text x="674.2" y="252.2" class="ll">0.01</text>
<rect x="654" y="257.6" width="17.6" height="17.6" fill="#fff" stroke="#cccccc" stroke-width="0.8"/>
<path d="M656 266.4H669.6" stroke="#00BFC4" stroke-width="1.1"/>
<text x="674.2" y="269.8" class="ll">0.1</text>
<rect x="654" y="275.2" width="17.6" height="17.6" fill="#fff" stroke="#cccccc" stroke-width="0.8"/>
<path d="M656 284H669.6" stroke="#C77CFF" stroke-width="1.1"/>
<text x="674.2" y="287.4" class="ll">1</text>
</svg>
</div></body></html>
